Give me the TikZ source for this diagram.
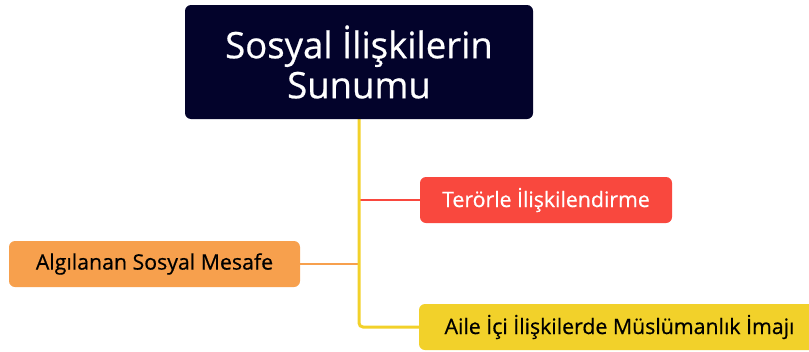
\documentclass[tikz,border=0pt]{standalone}
\usepackage{fontspec}
\setmainfont{Open Sans}[FakeBold=0.6]
\usetikzlibrary{backgrounds}
\definecolor{navy}{HTML}{03032B}
\definecolor{redb}{HTML}{F9483E}
\definecolor{orangeb}{HTML}{F7A04D}
\definecolor{yellowb}{HTML}{F2D12A}
\tikzset{
  box/.style={rounded corners=6pt, inner sep=0pt, align=center},
  topic/.style={box, minimum height=46pt, font=\fontsize{21.3}{24}\selectfont},
}
\begin{document}
\begin{tikzpicture}[x=1pt,y=-1pt]
\useasboundingbox (0,0) rectangle (809,351);
\clip (0,0) rectangle (809,351);
\node[box, fill=navy, text=white, minimum width=348pt, minimum height=114pt,
      font=\fontsize{36.5}{40}\selectfont] (root) at (359,62) {Sosyal İlişkilerin\\Sunumu};
\node[topic, fill=redb, text=white, minimum width=252pt] (teror) at (546,200) {Terörle İlişkilendirme};
\node[topic, fill=orangeb, text=black, minimum width=291pt] (mesafe) at (154.5,264) {Algılanan Sosyal Mesafe};
\node[topic, fill=yellowb, text=black, minimum width=401pt] (aile) at (619.5,327) {Aile İçi İlişkilerde Müslümanlık İmajı};
\coordinate (jr) at (359,200);
\coordinate (jo) at (359,264);
\begin{scope}[on background layer]
\draw[redb, line width=2.4pt] (jr) -- (teror.west);
\draw[orangeb, line width=2.4pt] (mesafe.east) -- (jo);
\draw[yellowb, line width=3pt, rounded corners=4pt] (root.south) |- (aile.west);
\end{scope}
\end{tikzpicture}
\end{document}
